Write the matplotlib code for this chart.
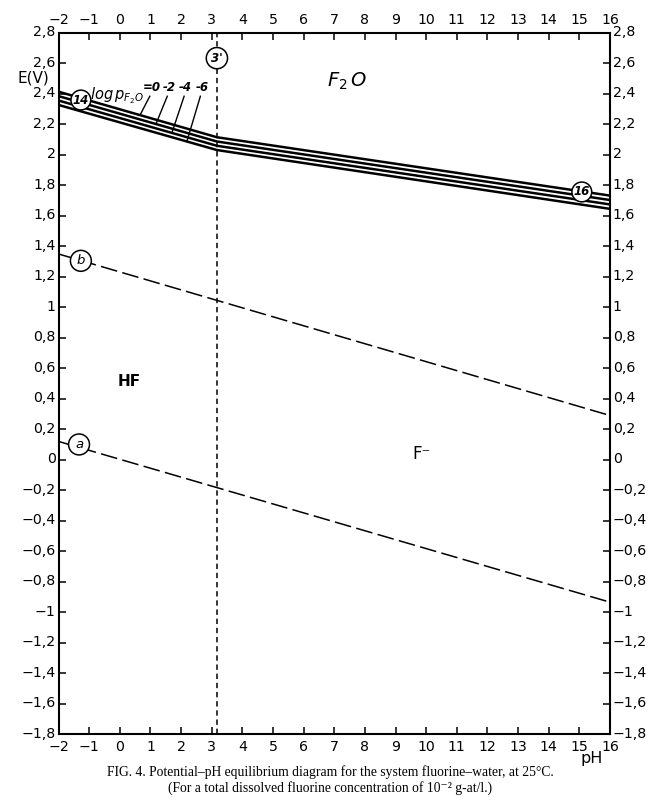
import matplotlib
matplotlib.use("Agg")
import matplotlib.pyplot as plt
import matplotlib.transforms as mtransforms
import numpy as np

# ---- data ----
ph_ticks = list(range(-2, 17))
e_ticks = [2.8, 2.6, 2.4, 2.2, 2.0, 1.8, 1.6, 1.4, 1.2, 1.0, 0.8, 0.6, 0.4, 0.2, 0.0,
           -0.2, -0.4, -0.6, -0.8, -1.0, -1.2, -1.4, -1.6, -1.8]
e_tick_labels = ["2,8", "2,6", "2,4", "2,2", "2", "1,8", "1,6", "1,4", "1,2", "1", "0,8", "0,6",
                 "0,4", "0,2", "0", "\u22120,2", "\u22120,4", "\u22120,6", "\u22120,8", "\u22121",
                 "\u22121,2", "\u22121,4", "\u22121,6", "\u22121,8"]
ph_tick_labels = [str(v).replace("-", "\u2212") for v in ph_ticks]

# water lines a and b
line_ph = [-2, 16]
line_a_E = [0.12, -0.935]
line_b_E = [1.35, 0.29]

# HF / F- boundary (line 3')
ph_3 = 3.17

# F2O lines (14 for pH < 3.17, 16 for pH > 3.17), log p F2O = 0, -2, -4, -6
f2o_ph = [-2, 3.17, 16]
f2o_logp = ["=0", "-2", "-4", "-6"]
f2o_E = [
    [2.415, 2.116, 1.733],
    [2.386, 2.088, 1.704],
    [2.357, 2.060, 1.675],
    [2.328, 2.032, 1.646],
]

# ---- figure ----
fig = plt.figure(figsize=(6.68, 8.02), dpi=100)
ax = fig.add_axes([58.5 / 668, 1 - 734 / 802, (610 - 58.5) / 668, (734 - 33) / 802])
ax.set_xlim(-2, 16)
ax.set_ylim(-1.8, 2.8)

for s in ax.spines.values():
    s.set_linewidth(1.5)

ax.set_xticks(ph_ticks)
ax.set_xticklabels(ph_tick_labels)
ax.set_yticks(e_ticks)
ax.set_yticklabels(e_tick_labels)
ax.tick_params(axis="both", direction="in", length=5, width=1.1, labelsize=10.2,
               top=True, right=True, labeltop=True, labelright=True, pad=4)
ax.tick_params(axis="y", pad=2)

# nudge the E labels up slightly, as in the reference
up = mtransforms.ScaledTranslation(0, 2 / 100, fig.dpi_scale_trans)
for t in ax.yaxis.get_major_ticks():
    t.label1.set_transform(t.label1.get_transform() + up)
    t.label2.set_transform(t.label2.get_transform() + up)

# lines a and b
ax.plot(line_ph, line_a_E, color="black", lw=1.1, dashes=(11, 3.5))
ax.plot(line_ph, line_b_E, color="black", lw=1.1, dashes=(11, 3.5))

# vertical line 3'
ax.plot([ph_3, ph_3], [-1.8, 2.8], color="black", lw=1.1, dashes=(3.5, 2.5))

# F2O lines
for E in f2o_E:
    ax.plot(f2o_ph, E, color="black", lw=1.8, solid_joinstyle="round")

# leader lines and log p labels
label_ph = [1.03, 1.60, 2.15, 2.68]
leader_end_ph = [0.66, 1.18, 1.70, 2.19]
for k, (lp, tx, ex) in enumerate(zip(f2o_logp, label_ph, leader_end_ph)):
    ey = np.interp(ex, f2o_ph, f2o_E[k])
    ax.plot([tx - 0.05, ex], [2.385, ey], color="black", lw=1.0)
    ax.text(tx, 2.445, lp, ha="center", va="center", fontsize=8.5, style="italic",
            fontweight="bold")
ax.text(-0.98, 2.39, r"$log\,p_{F_2O}$", ha="left", va="center", fontsize=10.5)

# circle labels
circ = dict(boxstyle="circle,pad=0.15", fc="white", ec="black", lw=1.1)
ax.text(-1.27, 2.36, "14", ha="center", va="center", fontsize=8.5, style="italic",
        fontweight="bold", bbox=circ)
ax.text(15.08, 1.757, "16", ha="center", va="center", fontsize=8.5, style="italic",
        fontweight="bold", bbox=circ)
ax.text(ph_3, 2.635, "3'", ha="center", va="center", fontsize=8.5, style="italic",
        fontweight="bold", bbox=dict(boxstyle="circle,pad=0.35", fc="white", ec="black", lw=1.1))
ax.text(-1.27, 1.305, "b", ha="center", va="center", fontsize=9.5, style="italic",
        bbox=dict(boxstyle="circle,pad=0.3", fc="white", ec="black", lw=1.1))
ax.text(-1.33, 0.10, "a", ha="center", va="center", fontsize=9.5, style="italic",
        bbox=dict(boxstyle="circle,pad=0.3", fc="white", ec="black", lw=1.1))

# region labels
ax.text(7.42, 2.48, r"$F_2\,O$", ha="center", va="center", fontsize=14)
ax.text(0.32, 0.51, "HF", ha="center", va="center", fontsize=11, fontweight="bold")
ax.text(9.86, 0.04, "F\u207b", ha="center", va="center", fontsize=12)

# axis labels
fig.text(33 / 668, 1 - 78 / 802, "E(V)", ha="center", va="center", fontsize=11)
fig.text(592 / 668, 1 - 759 / 802, "pH", ha="center", va="center", fontsize=11.5)

# caption
fig.text(0.494, 1 - 780 / 802,
         "FIG. 4. Potential\u2013pH equilibrium diagram for the system fluorine\u2013water, at 25\u00b0C.\n"
         "(For a total dissolved fluorine concentration of 10\u207b\u00b2 g-at/l.)",
         ha="center", va="center", fontsize=9.8, family=["Liberation Serif", "DejaVu Serif"],
         multialignment="center", linespacing=1.2)

fig.savefig("out.png", dpi=100)
